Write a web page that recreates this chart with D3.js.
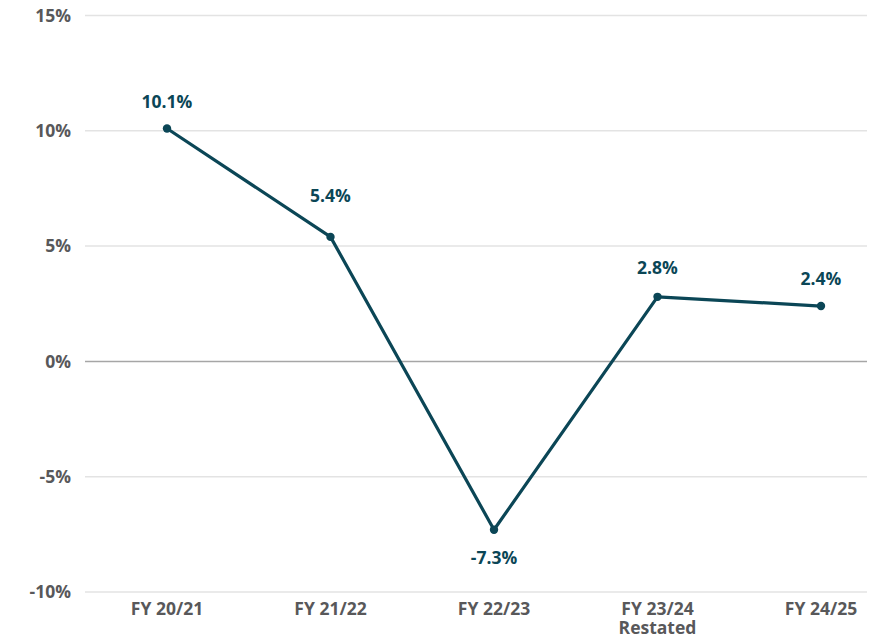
<!DOCTYPE html>
<html>
<head>
  <meta charset="utf-8">
  <title>Growth by financial year</title>
  <style>
    body { margin: 0; background: #fff; }
    text { font-family: "Open Sans", "DejaVu Sans", sans-serif; font-weight: 700; }
  </style>
</head>
<body>
  <script src="https://d3js.org/d3.v7.min.js"></script>
  <script>

var categories = ["FY 20/21", "FY 21/22", "FY 22/23", "FY 23/24\nRestated", "FY 24/25"];
var growth     = [10.1, 5.4, -7.3, 2.8, 2.4];
var yTicks     = [-10, -5, 0, 5, 10, 15];

var W = 889, H = 639;
var plotLeft = 85, plotRight = 867, plotTop = 15.5, plotBottom = 592;
// vertical gap between point and its value label (px), per point
var labelGap = [-20, -35, 34, -23, -21];

var svg = d3.select("body").append("svg")
    .attr("width", W)
    .attr("height", H);

var x = d3.scalePoint()
    .domain(categories)
    .range([167, 821]);

var y = d3.scaleLinear()
    .domain([-10, 15])
    .range([plotBottom, plotTop]);

// gridlines
svg.append("g").selectAll("line")
    .data(yTicks)
    .enter().append("line")
    .attr("x1", plotLeft)
    .attr("x2", plotRight)
    .attr("y1", function(d){ return y(d); })
    .attr("y2", function(d){ return y(d); })
    .attr("stroke", function(d){ return d === 0 ? "#a6a6a6" : "#e3e3e3"; })
    .attr("stroke-width", 1.5);

// y axis labels
svg.append("g").selectAll("text")
    .data(yTicks)
    .enter().append("text")
    .attr("x", 71)
    .attr("y", function(d){ return y(d); })
    .attr("dy", "0.35em")
    .attr("text-anchor", "end")
    .attr("font-size", 17.5)
    .attr("fill", "#58585a")
    .text(function(d){ return d + "%"; });

// x axis labels
var xl = svg.append("g").selectAll("text")
    .data(categories)
    .enter().append("text")
    .attr("x", function(d){ return x(d); })
    .attr("y", 615)
    .attr("text-anchor", "middle")
    .attr("font-size", 17.5)
    .attr("fill", "#58585a");

xl.selectAll("tspan")
    .data(function(d){ return d.split("\n").map(function(t){ return {t: t, c: d}; }); })
    .enter().append("tspan")
    .attr("x", function(d){ return x(d.c); })
    .attr("dy", function(d, i){ return i === 0 ? 0 : 19; })
    .text(function(d){ return d.t; });

var data = categories.map(function(c, i){ return {cat: c, v: growth[i], gap: labelGap[i]}; });

var line = d3.line()
    .x(function(d){ return x(d.cat); })
    .y(function(d){ return y(d.v); });

svg.append("path")
    .datum(data)
    .attr("d", line)
    .attr("fill", "none")
    .attr("stroke", "#0b4656")
    .attr("stroke-width", 3.2)
    .attr("stroke-linejoin", "round");

svg.append("g").selectAll("circle")
    .data(data)
    .enter().append("circle")
    .attr("cx", function(d){ return x(d.cat); })
    .attr("cy", function(d){ return y(d.v); })
    .attr("r", 4.2)
    .attr("fill", "#0b4656");

svg.append("g").selectAll("text")
    .data(data)
    .enter().append("text")
    .attr("x", function(d){ return x(d.cat); })
    .attr("y", function(d){ return y(d.v) + d.gap; })
    .attr("text-anchor", "middle")
    .attr("font-size", 17.5)
    .attr("fill", "#0b4656")
    .text(function(d){ return d.v.toFixed(1) + "%"; });

  </script>
</body>
</html>
